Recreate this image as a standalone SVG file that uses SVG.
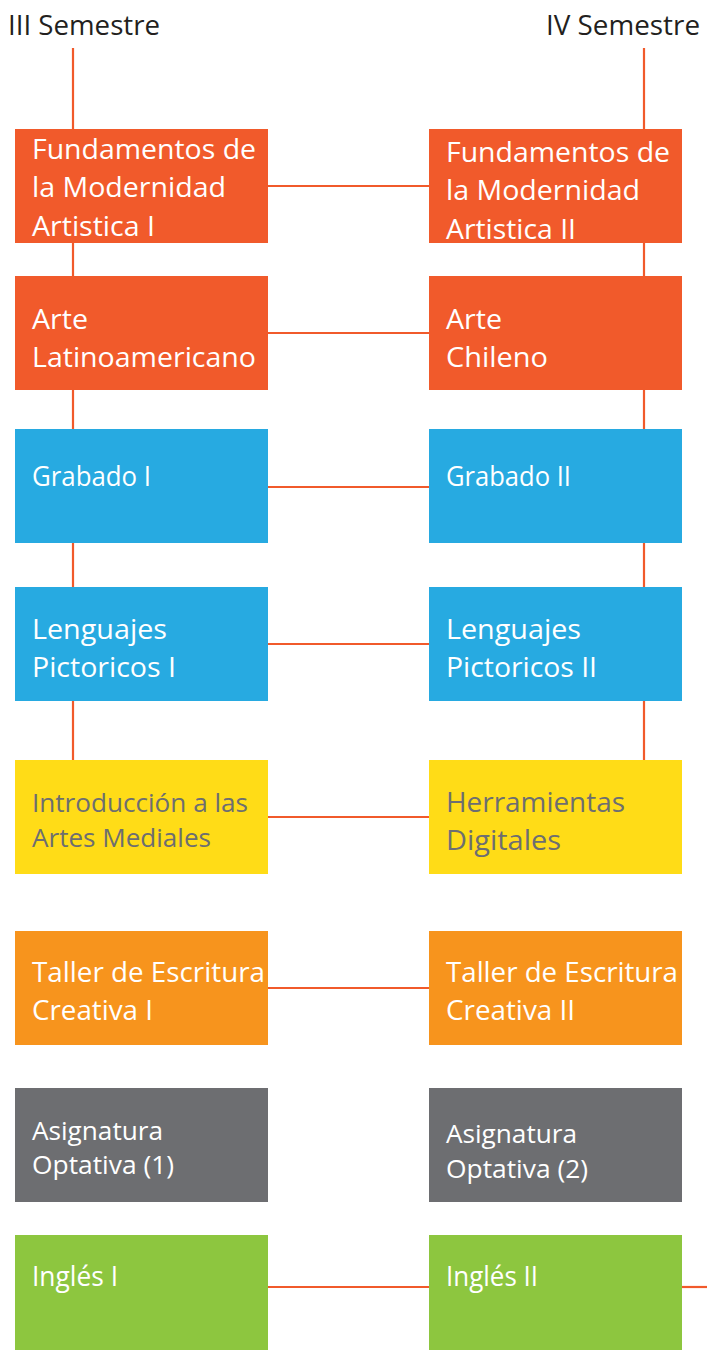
<svg xmlns="http://www.w3.org/2000/svg" width="707" height="1350" viewBox="0 0 707 1350">
<style>
.ln{stroke:#f15a2b;stroke-width:2.2;fill:none}
.t{font-family:"Open Sans","Noto Sans",sans-serif;font-size:27px;fill:#ffffff}
.g{fill:#6d6e71}
.h{font-family:"Open Sans","Noto Sans",sans-serif;font-size:28px;fill:#231f20}
.or{fill:#f15a2b}.bl{fill:#27aae1}.ye{fill:#ffdc17}.o2{fill:#f7941d}.gr{fill:#6d6e71}.gn{fill:#8dc63f}
</style>
<rect width="707" height="1350" fill="#ffffff"/>
<text class="h" x="8" y="35" textLength="152" lengthAdjust="spacingAndGlyphs">III Semestre</text>
<text class="h" x="546" y="35" textLength="154" lengthAdjust="spacingAndGlyphs">IV Semestre</text>
<g id="connectors">
<line class="ln" x1="73" y1="48" x2="73" y2="760"/>
<line class="ln" x1="644" y1="48" x2="644" y2="760"/>
<line class="ln" x1="268" y1="186" x2="429" y2="186"/>
<line class="ln" x1="268" y1="333" x2="429" y2="333"/>
<line class="ln" x1="268" y1="487" x2="429" y2="487"/>
<line class="ln" x1="268" y1="644" x2="429" y2="644"/>
<line class="ln" x1="268" y1="817" x2="429" y2="817"/>
<line class="ln" x1="268" y1="988" x2="429" y2="988"/>
<line class="ln" x1="268" y1="1287" x2="429" y2="1287"/>
<line class="ln" x1="682" y1="1287" x2="707" y2="1287"/>
</g>
<g id="fund1"><rect class="or" x="15" y="129" width="253" height="114"/>
<text class="t" x="32" y="159" textLength="224" lengthAdjust="spacingAndGlyphs">Fundamentos de</text>
<text class="t" x="32" y="197" textLength="194" lengthAdjust="spacingAndGlyphs">la Modernidad</text>
<text class="t" x="32" y="236" textLength="123" lengthAdjust="spacingAndGlyphs">Artistica I</text></g>
<g id="fund2"><rect class="or" x="429" y="129" width="253" height="114"/>
<text class="t" x="446" y="162" textLength="224" lengthAdjust="spacingAndGlyphs">Fundamentos de</text>
<text class="t" x="446" y="200" textLength="194" lengthAdjust="spacingAndGlyphs">la Modernidad</text>
<text class="t" x="446" y="239" textLength="130" lengthAdjust="spacingAndGlyphs">Artistica II</text></g>
<g id="arte1"><rect class="or" x="15" y="276" width="253" height="114"/>
<text class="t" x="32" y="329" textLength="56" lengthAdjust="spacingAndGlyphs">Arte</text>
<text class="t" x="32" y="367" textLength="224" lengthAdjust="spacingAndGlyphs">Latinoamericano</text></g>
<g id="arte2"><rect class="or" x="429" y="276" width="253" height="114"/>
<text class="t" x="446" y="329" textLength="56" lengthAdjust="spacingAndGlyphs">Arte</text>
<text class="t" x="446" y="367" textLength="102" lengthAdjust="spacingAndGlyphs">Chileno</text></g>
<g id="grab1"><rect class="bl" x="15" y="429" width="253" height="114"/>
<text class="t" x="32" y="486" textLength="119" lengthAdjust="spacingAndGlyphs">Grabado I</text></g>
<g id="grab2"><rect class="bl" x="429" y="429" width="253" height="114"/>
<text class="t" x="446" y="486" textLength="125" lengthAdjust="spacingAndGlyphs">Grabado II</text></g>
<g id="leng1"><rect class="bl" x="15" y="587" width="253" height="114"/>
<text class="t" x="32" y="639" textLength="135" lengthAdjust="spacingAndGlyphs">Lenguajes</text>
<text class="t" x="32" y="677" textLength="144" lengthAdjust="spacingAndGlyphs">Pictoricos I</text></g>
<g id="leng2"><rect class="bl" x="429" y="587" width="253" height="114"/>
<text class="t" x="446" y="639" textLength="135" lengthAdjust="spacingAndGlyphs">Lenguajes</text>
<text class="t" x="446" y="677" textLength="151" lengthAdjust="spacingAndGlyphs">Pictoricos II</text></g>
<g id="intro"><rect class="ye" x="15" y="760" width="253" height="114"/>
<text class="t g" x="32" y="812" style="font-size:25px" textLength="216" lengthAdjust="spacingAndGlyphs">Introducción a las</text>
<text class="t g" x="32" y="847" style="font-size:25px" textLength="179" lengthAdjust="spacingAndGlyphs">Artes Mediales</text></g>
<g id="herr"><rect class="ye" x="429" y="760" width="253" height="114"/>
<text class="t g" x="446" y="812" textLength="179" lengthAdjust="spacingAndGlyphs">Herramientas</text>
<text class="t g" x="446" y="850" textLength="115" lengthAdjust="spacingAndGlyphs">Digitales</text></g>
<g id="taller1"><rect class="o2" x="15" y="931" width="253" height="114"/>
<text class="t" x="32" y="982" textLength="233" lengthAdjust="spacingAndGlyphs">Taller de Escritura</text>
<text class="t" x="32" y="1020" textLength="121" lengthAdjust="spacingAndGlyphs">Creativa I</text></g>
<g id="taller2"><rect class="o2" x="429" y="931" width="253" height="114"/>
<text class="t" x="446" y="982" textLength="232" lengthAdjust="spacingAndGlyphs">Taller de Escritura</text>
<text class="t" x="446" y="1020" textLength="129" lengthAdjust="spacingAndGlyphs">Creativa II</text></g>
<g id="opt1"><rect class="gr" x="15" y="1088" width="253" height="114"/>
<text class="t" x="32" y="1140" style="font-size:25px" textLength="131" lengthAdjust="spacingAndGlyphs">Asignatura</text>
<text class="t" x="32" y="1174" style="font-size:25px" textLength="142" lengthAdjust="spacingAndGlyphs">Optativa (1)</text></g>
<g id="opt2"><rect class="gr" x="429" y="1088" width="253" height="114"/>
<text class="t" x="446" y="1143" style="font-size:25px" textLength="131" lengthAdjust="spacingAndGlyphs">Asignatura</text>
<text class="t" x="446" y="1178" style="font-size:25px" textLength="142" lengthAdjust="spacingAndGlyphs">Optativa (2)</text></g>
<g id="ingles1"><rect class="gn" x="15" y="1235" width="253" height="115"/>
<text class="t" x="32" y="1286" textLength="86" lengthAdjust="spacingAndGlyphs">Inglés I</text></g>
<g id="ingles2"><rect class="gn" x="429" y="1235" width="253" height="115"/>
<text class="t" x="446" y="1286" textLength="92" lengthAdjust="spacingAndGlyphs">Inglés II</text></g>
</svg>
